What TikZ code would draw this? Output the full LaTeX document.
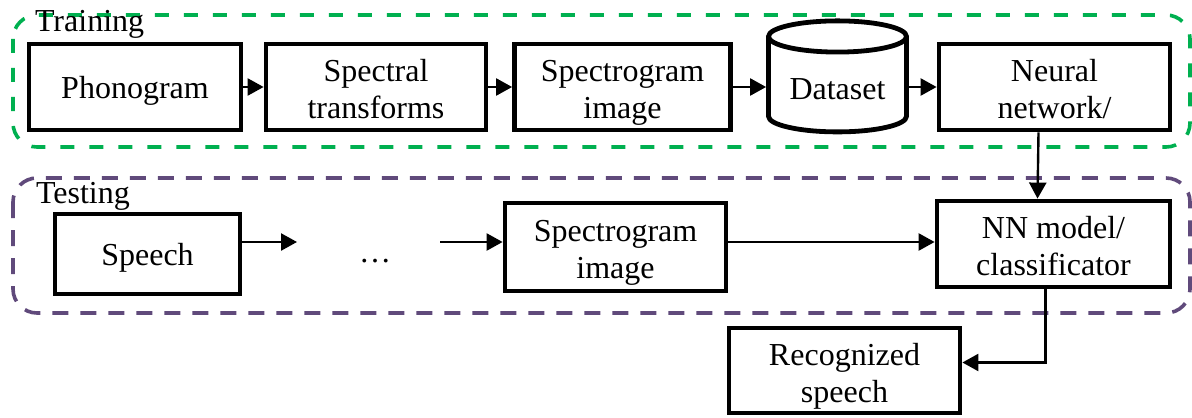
\documentclass[tikz,border=0pt]{standalone}
\usepackage{fontspec}
\setmainfont{Liberation Serif}
\usetikzlibrary{arrows.meta,shapes.geometric}

\definecolor{traingreen}{RGB}{0,176,80}
\definecolor{testpurple}{RGB}{96,74,123}

\tikzset{
	txt/.style={font=\fontsize{16}{18.5}\selectfont},
	block/.style={txt, draw, line width=2.4pt, align=center, inner sep=2pt},
	oneline/.style={text height=14.5pt, text depth=3.5pt},
	twoline/.style={text height=35pt, text depth=3.5pt},
	arr/.style={line width=1.2pt, -{Triangle[length=8pt,width=8.5pt]}},
	stage/.style={line width=1.8pt, rounded corners=12pt},
}

\begin{document}
\begin{tikzpicture}[x=0.5pt,y=-0.5pt]

	% ---- frame

	\useasboundingbox (0,0) rectangle (1192,417);

	% ---- stages

	\draw[stage, traingreen, dash pattern=on 7pt off 7.5pt] (13,15) rectangle (1190,147);
	\draw[stage, testpurple, dash pattern=on 8pt off 6pt] (13,178) rectangle (1190,313);

	\node[txt, anchor=base west] (trainlbl) at (28,32) {Training};
	\node[txt, anchor=base west] (testlbl) at (29,203) {Testing};

	% ---- training boxes

	\node[block, oneline, minimum width=106pt, minimum height=43pt] (phono) at (135,87) {Phonogram};
	\node[block, twoline, minimum width=110pt, minimum height=43pt] (spectral) at (376,87) {Spectral\\transforms};
	\node[block, twoline, minimum width=108pt, minimum height=43pt] (specimg) at (622.5,87) {Spectrogram\\image};
	\node[block, oneline, cylinder, shape border rotate=90, aspect=0.3,
		minimum width=69pt, minimum height=55.5pt] (dataset) at (837.5,88) {Dataset};
	\node[block, twoline, minimum width=115.5pt, minimum height=43pt] (neural) at (1054.5,87) {Neural\\network/};

	% ---- testing boxes

	\node[block, oneline, minimum width=92.5pt, minimum height=40pt] (speech) at (147.5,254) {Speech};
	\node[txt, anchor=base] (dots) at (375,262) {\dots};
	\node[block, twoline, minimum width=110.5pt, minimum height=44pt] (testimg) at (615.5,247) {Spectrogram\\image};
	\node[block, twoline, minimum width=116.5pt, minimum height=43pt] (nnmodel) at (1053.5,244) {NN model/\\classificator};

	\node[block, twoline, minimum width=115.5pt, minimum height=42.5pt] (recog) at (844.5,370.5) {Recognized\\speech};

	% ---- training arrows

	\draw[arr] (phono) -- (spectral);
	\draw[arr] (spectral) -- (specimg);
	\draw[arr] (specimg) -- (dataset.west |- specimg);
	\draw[arr] (dataset.east |- neural) -- (neural);

	% ---- testing arrows

	\coordinate (dotsin) at (297,242);
	\coordinate (dotsout) at (440,242);

	\draw[arr] (speech.east |- dotsin) -- (dotsin);
	\draw[arr] (dotsout) -- (dotsout -| testimg.west);
	\draw[arr] (testimg.east |- dotsout) -- (nnmodel.west |- dotsout);

	% ---- model and output

	\draw[arr] ([xshift=-8pt]neural.south) -- ([xshift=-8pt]nnmodel.north);
	\draw[arr] ([xshift=-4pt]nnmodel.south) |- ([yshift=4pt]recog.east);

\end{tikzpicture}
\end{document}
